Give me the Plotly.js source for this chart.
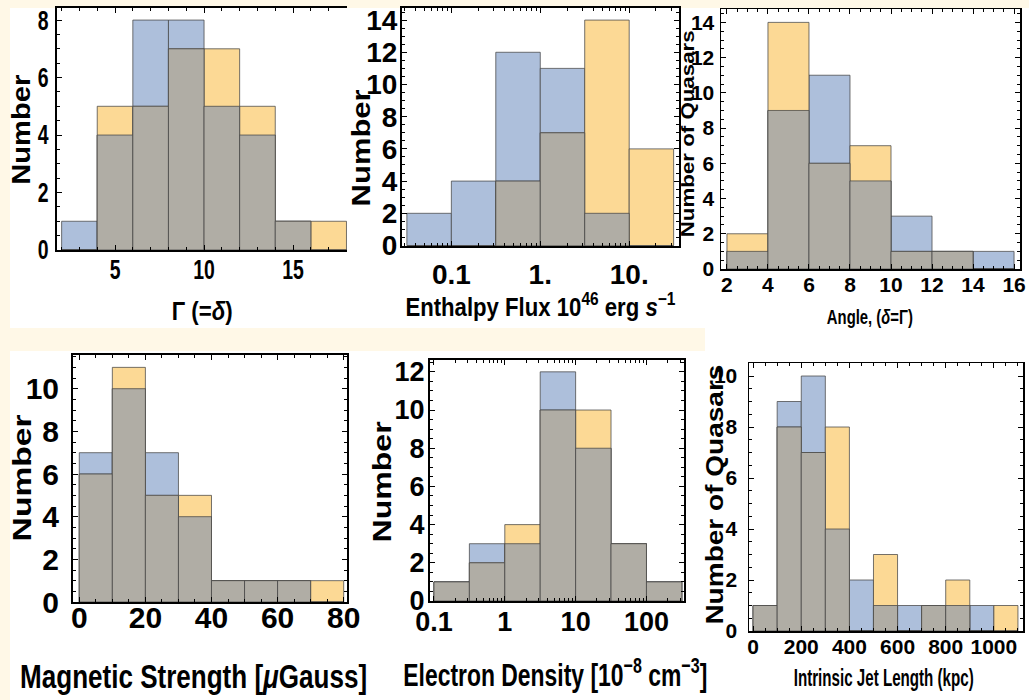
<!DOCTYPE html>
<html>
<head>
<meta charset="utf-8">
<script src="https://cdn.plot.ly/plotly-3.0.1.min.js"></script>
<style>html,body{margin:0;padding:0;background:#fff8e7;}#chart{width:1029px;height:700px;}</style>
</head>
<body>
<div id="chart"></div>
<script>
// ---- Data (bin edges and counts) ----
const gammaEdges = [2, 4, 6, 8, 10, 12, 14, 16, 18];
const gammaBlue = [1, 4, 8, 8, 5, 4, 1, 0];
const gammaOrange = [0, 5, 5, 7, 7, 5, 1, 1];

const fluxEdges = [0.0316, 0.1, 0.316, 1, 3.16, 10, 31.6];
const fluxBlue = [2, 4, 12, 11, 2, 0];
const fluxOrange = [0, 0, 4, 7, 14, 6];
const fluxTickVals = [0.1, 1, 10];
const fluxTickText = ['0.1', '1.', '10.'];

const angleEdges = [2, 4, 6, 8, 10, 12, 14, 16];
const angleBlue = [1, 9, 11, 5, 3, 1, 1];
const angleOrange = [2, 14, 6, 7, 1, 1, 0];

const magEdges = [0, 10, 20, 30, 40, 50, 60, 70, 80];
const magBlue = [7, 10, 7, 4, 1, 1, 1, 0];
const magOrange = [6, 11, 5, 5, 1, 1, 1, 1];

const densEdges = [0.1, 0.316, 1, 3.16, 10, 31.6, 100, 316];
const densBlue = [1, 3, 3, 12, 8, 3, 1];
const densOrange = [1, 2, 4, 10, 10, 3, 1];
const densTickVals = [0.1, 1, 10, 100];
const densTickText = ['0.1', '1', '10', '100'];

const jetEdges = [0, 100, 200, 300, 400, 500, 600, 700, 800, 900, 1000, 1100];
const jetBlue = [1, 9, 10, 4, 2, 1, 1, 1, 1, 1, 0];
const jetOrange = [1, 8, 7, 8, 0, 3, 0, 1, 2, 0, 1];

// ---- Styling ----
const W = 1029, H = 700;
const BLUE = '#adbfdb', ORANGE = '#fcd995', GRAY = '#b0ada5';
const EDGE = 'rgba(70,70,70,0.75)';
const SANS = "'Liberation Sans', Arial, sans-serif";
const TICK_SQUEEZE = 0.72;
const px = x => x / W;
const py = y => 1 - y / H;

const traces = [];
const layout = {
  width: W, height: H,
  margin: {l: 0, r: 0, t: 0, b: 0},
  paper_bgcolor: '#fff8e7',
  plot_bgcolor: 'rgba(0,0,0,0)',
  showlegend: false,
  barmode: 'overlay',
  shapes: [],
  annotations: []
};

// white panel backgrounds
[[10, 8, 1029, 328], [10, 351, 1029, 700], [705, 320, 1029, 360]].forEach(r => {
  layout.shapes.push({type: 'rect', xref: 'paper', yref: 'paper', layer: 'below',
    x0: px(r[0]), x1: px(r[2]), y0: py(r[3]), y1: py(r[1]),
    fillcolor: '#ffffff', line: {width: 0}});
});

function logMinor(lo, hi) {
  const out = [];
  for (let d = lo; d <= hi; d++) for (let k = 2; k <= 9; k++) out.push(Math.log10(k * Math.pow(10, d)));
  return out;
}

const panels = [
  {edges: gammaEdges, blue: gammaBlue, orange: gammaOrange, log: false,
   box: [57, 8, 347, 250], xr: [1.74, 18.03], yr: [0, 8.42],
   xt: {tickvals: [5, 10, 15]}, xminor: {dtick: 1}, yt: {dtick: 2}, yminor: {dtick: 0.5},
   tick: 27, xso: -5, yso: 1, lw: 2, ymirror: false},
  {edges: fluxEdges, blue: fluxBlue, orange: fluxOrange, log: true,
   box: [402, 8, 679, 245.5], xr: [-1.555, 1.56], yr: [0, 14.75],
   xt: {tickvals: fluxTickVals.map(Math.log10), ticktext: fluxTickText},
   xminor: {tickvals: logMinor(-2, 1)}, yt: {dtick: 2}, yminor: {dtick: 0.5},
   tick: 28, xso: 3, yso: -3, lw: 2, ymirror: 'ticks'},
  {edges: angleEdges, blue: angleBlue, orange: angleOrange, log: false,
   box: [721, 9, 1020, 269], xr: [1.71, 16.29], yr: [0, 14.76],
   xt: {dtick: 2}, xminor: {dtick: 0.5}, yt: {dtick: 2}, yminor: {dtick: 0.5},
   tick: 21, xso: -4, yso: 1, lw: 1.5, ymirror: 'ticks'},
  {edges: magEdges, blue: magBlue, orange: magOrange, log: false,
   box: [73, 355, 347, 602], xr: [-1.9, 81.0], yr: [0, 11.58],
   xt: {dtick: 20}, xminor: {dtick: 5}, yt: {dtick: 2}, yminor: {dtick: 0.5},
   tick: 30, xso: -12, yso: 6, lw: 2, ymirror: 'ticks'},
  {edges: densEdges, blue: densBlue, orange: densOrange, log: true,
   box: [430, 360, 684, 601], xr: [-1.056, 2.53], yr: [0, 12.62],
   xt: {tickvals: densTickVals.map(Math.log10), ticktext: densTickText},
   xminor: {tickvals: logMinor(-1, 2)}, yt: {dtick: 2}, yminor: {dtick: 0.5},
   tick: 27, xso: -4, yso: -2, lw: 2, ymirror: 'ticks'},
  {edges: jetEdges, blue: jetBlue, orange: jetOrange, log: false,
   box: [749, 363, 1023, 631], xr: [-17, 1121], yr: [0, 10.51],
   xt: {dtick: 200}, xminor: {dtick: 50}, yt: {dtick: 2}, yminor: {dtick: 0.5},
   tick: 21, xso: -4, yso: 6, lw: 1.5, ymirror: 'ticks'}
];

panels.forEach((p, i) => {
  const n = i + 1;
  const xa = n === 1 ? 'x' : 'x' + n, ya = n === 1 ? 'y' : 'y' + n;
  const e = p.log ? p.edges.map(Math.log10) : p.edges;
  const centers = [], widths = [];
  for (let k = 0; k < e.length - 1; k++) { centers.push((e[k] + e[k + 1]) / 2); widths.push(e[k + 1] - e[k]); }
  const overlap = p.blue.map((b, k) => Math.min(b, p.orange[k]));
  [[p.blue, BLUE], [p.orange, ORANGE], [overlap, GRAY]].forEach(([vals, col]) => {
    traces.push({type: 'bar', x: centers, y: vals, width: widths, xaxis: xa, yaxis: ya,
      marker: {color: col, line: {color: EDGE, width: 1}}, hoverinfo: 'skip'});
  });
  const tf = {family: SANS, size: p.tick, color: '#000', weight: 'bold'};
  layout['xaxis' + (n === 1 ? '' : n)] = Object.assign({
    domain: [px(p.box[0]), px(p.box[2])], anchor: ya, range: p.xr,
    showline: true, linecolor: '#000', linewidth: p.lw, mirror: 'ticks',
    ticks: 'inside', ticklen: 5, tickwidth: 1, tickcolor: '#000',
    showgrid: false, zeroline: false, tickfont: tf, ticklabelstandoff: p.xso,
    minor: Object.assign({ticks: 'inside', ticklen: 3, tickcolor: '#000', showgrid: false}, p.xminor)
  }, p.xt);
  layout['yaxis' + (n === 1 ? '' : n)] = Object.assign({
    domain: [py(p.box[3]), py(p.box[1])], anchor: xa, range: p.yr,
    showline: true, linecolor: '#000', linewidth: p.lw, mirror: p.ymirror,
    ticks: 'inside', ticklen: 5, tickwidth: 1, tickcolor: '#000',
    showgrid: false, zeroline: false, tickfont: tf, ticklabelstandoff: p.yso,
    minor: Object.assign({ticks: 'inside', ticklen: 3, tickcolor: '#000', showgrid: false}, p.yminor)
  }, p.yt);
});

// ---- Axis titles (w = rendered length in px, to mimic the condensed lettering) ----
const labels = [
  {t: 'Number', x: 21, y: 130, s: 25, w: 110, rot: true},
  {t: 'Γ (=<i>δ</i>)', x: 202, y: 311, s: 25, w: 61},
  {t: 'Number', x: 361, y: 148, s: 26, w: 117, rot: true},
  {t: 'Enthalpy Flux 10<sup>46</sup> erg <i>s</i><sup>−1</sup>', x: 540, y: 305, s: 25, w: 270},
  {t: 'Number of Quasars', x: 688, y: 134, s: 19, w: 207, rot: true},
  {t: 'Angle, (<i>δ</i>=Γ)', x: 870, y: 316, s: 21, w: 86},
  {t: 'Number', x: 22, y: 478, s: 26, w: 127, rot: true},
  {t: 'Magnetic Strength [<i>μ</i>Gauss]', x: 193, y: 676, s: 34, w: 347},
  {t: 'Number', x: 382, y: 482, s: 26, w: 121, rot: true},
  {t: 'Electron Density [10<sup>−8</sup> cm<sup>−3</sup>]', x: 555, y: 673, s: 32, w: 304},
  {t: 'Number of Quasars', x: 714, y: 495, s: 24, w: 260, rot: true},
  {t: 'Intrinsic Jet Length (kpc)', x: 883, y: 678, s: 23, w: 180}
];
labels.forEach(l => {
  layout.annotations.push({
    text: l.t, xref: 'paper', yref: 'paper', x: px(l.x), y: py(l.y),
    xanchor: 'center', yanchor: 'middle', showarrow: false,
    textangle: l.rot ? -90 : 0,
    font: {family: SANS, size: l.s, color: '#000', weight: 'bold'}
  });
});

Plotly.newPlot('chart', traces, layout, {staticPlot: true, displayModeBar: false}).then(gd => {
  // condensed look for tick labels
  gd.querySelectorAll('.xtick text, .ytick text').forEach(t => {
    const L = t.getComputedTextLength();
    if (L > 0) { t.setAttribute('textLength', (L * TICK_SQUEEZE).toFixed(2)); t.setAttribute('lengthAdjust', 'spacingAndGlyphs'); }
  });
  gd.querySelectorAll('g.annotation').forEach(g => {
    const idx = +g.getAttribute('data-index');
    const l = labels[idx];
    const t = g.querySelector('text.annotation-text');
    if (l && l.w && t) { t.setAttribute('textLength', l.w); t.setAttribute('lengthAdjust', 'spacingAndGlyphs'); }
  });
});
</script>
</body>
</html>
